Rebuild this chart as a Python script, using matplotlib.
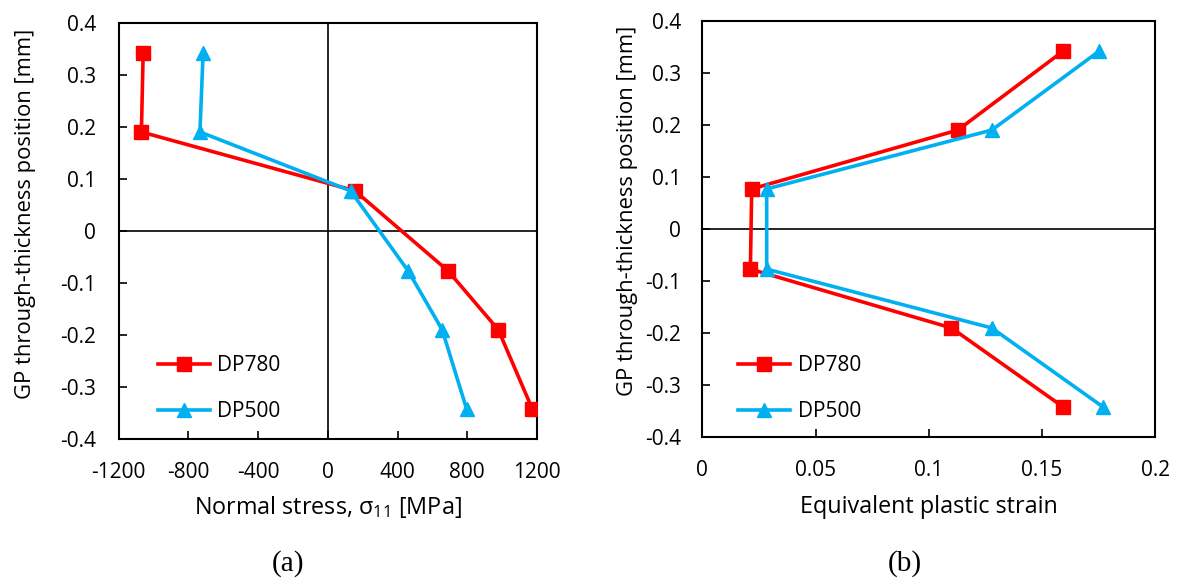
import matplotlib
matplotlib.use("Agg")
import matplotlib.pyplot as plt

# Data
gp_pos = [0.342, 0.19, 0.077, -0.077, -0.19, -0.342]
stress_dp780 = [-1060, -1070, 155, 690, 978, 1173]
stress_dp500 = [-716, -734, 130, 461, 656, 796]
strain_dp780 = [0.1594, 0.1128, 0.0218, 0.0212, 0.110, 0.1594]
strain_dp500 = [0.1753, 0.1278, 0.0284, 0.0284, 0.1278, 0.177]

series_names = ["DP780", "DP500"]
stress_ticks = [-1200, -800, -400, 0, 400, 800, 1200]
strain_ticks = [0, 0.05, 0.1, 0.15, 0.2]
strain_ticklabels = ["0", "0.05", "0.1", "0.15", "0.2"]
y_ticks = [0.4, 0.3, 0.2, 0.1, 0, -0.1, -0.2, -0.3, -0.4]
y_ticklabels = ["0.4", "0.3", "0.2", "0.1", "0", "-0.1", "-0.2", "-0.3", "-0.4"]

RED = "#FF0000"
BLUE = "#00B0F0"

plt.rcParams['font.family'] = ['Open Sans', 'DejaVu Sans']
plt.rcParams['mathtext.fontset'] = 'custom'
plt.rcParams['mathtext.rm'] = 'Open Sans'

fig = plt.figure(figsize=(11.84, 5.79), dpi=100)
ax1 = fig.add_axes([0.1003, 0.2418, 0.3532, 0.7190])
ax2 = fig.add_axes([0.5932, 0.2447, 0.3826, 0.7195])

TFS = 15
LFS = 16.8

def style(ax, pad):
    for s in ax.spines.values():
        s.set_linewidth(1.5)
        s.set_color("black")
    ax.tick_params(direction="in", length=6, width=1.2, labelsize=TFS, pad=pad,
                   top=False, right=False)
    ax.set_ylim(-0.4, 0.4)
    ax.set_yticks(y_ticks)
    ax.set_yticklabels(y_ticklabels)
    ax.set_ylabel("GP through-thickness position [mm]", fontsize=15.8, va="center")

line_kw = dict(lw=2.6, markersize=9.5, zorder=3)
leg_kw = dict(loc="upper left", frameon=False, fontsize=TFS, handlelength=2.5,
              labelspacing=1.2, handletextpad=0.35, borderpad=0, borderaxespad=0)

# Panel (a)
style(ax1, 16.5)
ax1.axhline(0, color="black", lw=1.2, zorder=1)
ax1.axvline(0, color="black", lw=1.2, zorder=1)
ax1.plot(stress_dp780, gp_pos, color=RED, marker="s", label=series_names[0], **line_kw)
ax1.plot(stress_dp500, gp_pos, color=BLUE, marker="^", label=series_names[1], **line_kw)
ax1.set_xlim(-1200, 1200)
ax1.set_xticks(stress_ticks)
ax1.set_xticklabels([str(t) for t in stress_ticks])
ax1.set_xlabel("Normal stress, σ$_{\\mathrm{11}}$ [MPa]", fontsize=LFS, va="center")
ax1.xaxis.set_label_coords(0.499, -0.163)
ax1.yaxis.set_label_coords(-0.224, 0.54)
ax1.legend(bbox_to_anchor=(0.094, 0.202), **leg_kw)

# Panel (b)
style(ax2, 15.5)
ax2.axhline(0, color="black", lw=1.2, zorder=1)
ax2.plot(strain_dp780, gp_pos, color=RED, marker="s", label=series_names[0], **line_kw)
ax2.plot(strain_dp500, gp_pos, color=BLUE, marker="^", label=series_names[1], **line_kw)
ax2.set_xlim(0, 0.2)
ax2.set_xticks(strain_ticks)
ax2.set_xticklabels(strain_ticklabels)
ax2.tick_params(axis="x", pad=16.5)
ax2.set_xlabel("Equivalent plastic strain", fontsize=LFS, va="center")
ax2.xaxis.set_label_coords(0.5, -0.167)
ax2.yaxis.set_label_coords(-0.166, 0.543)
ax2.legend(bbox_to_anchor=(0.079, 0.198), **leg_kw)

fig.text(288 / 1184, 1 - 564 / 579, "(a)", family="Liberation Serif", fontsize=21,
         ha="center", va="center")
fig.text(905 / 1184, 1 - 564 / 579, "(b)", family="Liberation Serif", fontsize=21,
         ha="center", va="center")

fig.savefig("out.png", dpi=100)
